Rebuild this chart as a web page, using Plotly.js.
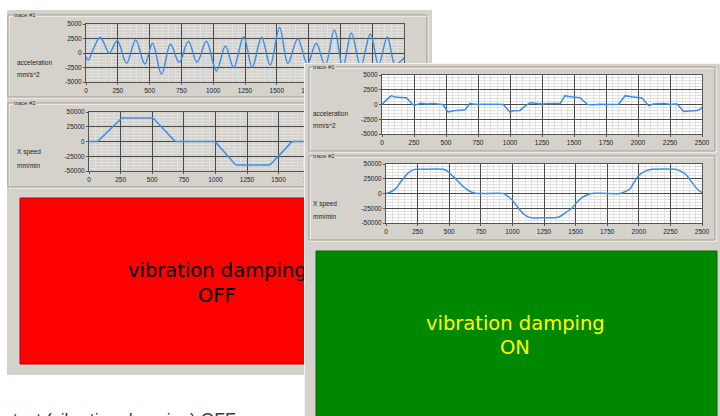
<!DOCTYPE html>
<html><head><meta charset="utf-8">
<script src="https://cdn.plot.ly/plotly-3.0.1.min.js"></script>
<style>
body{margin:0;background:#fff;overflow:hidden;width:720px;height:416px}
#w1{position:absolute;left:0;top:0;width:720px;height:416px}
#w2{position:absolute;left:304px;top:63px;width:416px;height:353px}
</style></head><body>
<div id="w1"></div><div id="w2"></div>
<script>
// ---------- data ----------
const xTickVals = [0,250,500,750,1000,1250,1500,1750,2000,2250,2500];
const xTickText = ["0","250","500","750","1000","1250","1500","1750","2000","2250","2500"];
// left window: labels beyond 1750 lie under the right window
const xTickTextLeft = ["0","250","500","750","1000","1250","1500","1750","","",""];
const accTickVals = [5000,2500,0,-2500,-5000];
const accTickText = ["5000","2500","0","-2500","-5000"];
const spdTickVals = [50000,25000,0,-25000,-50000];
const spdTickText = ["50000","25000","0","-25000","-50000"];

// vibration damping OFF - acceleration (mm/s^2)
const accOffX = [0,18,60,110,140,183,246,319,390,463,523,594,664,732,805,873,946,1025,1096,1161,1239,1307,1380,1448,1522,1587,1665,1740,1810,1880,1953,2020,2086,2160,2235,2300,2369,2430,2480,2500];
const accOffY = [-640,-1200,800,2700,1800,-50,2120,-1780,2240,-1900,1670,-3680,1500,-1610,2010,-1610,2010,-3100,1210,-2530,2820,-2470,2700,-2070,4400,-1780,2470,-1900,1700,-2200,3950,-2500,3450,-2300,3270,-2000,2750,-2000,-1300,-800];
// vibration damping OFF - X speed (mm/min)
const spdOffX = [0,65,75,245,260,500,515,675,690,990,1005,1155,1170,1425,1440,1600,1615,1750];
const spdOffY = [0,0,1500,38500,40000,40000,38000,1500,0,0,-2000,-38500,-40000,-40000,-38000,-1500,0,0];

// vibration damping ON - acceleration (mm/s^2)
const accOnX = [0,30,73,100,150,190,215,238,260,300,350,400,450,478,500,517,560,608,650,670,686,720,800,900,947,975,1000,1026,1078,1110,1156,1200,1250,1300,1391,1410,1430,1470,1522,1548,1575,1605,1650,1700,1800,1848,1875,1900,1950,1991,2031,2060,2083,2122,2200,2250,2305,2330,2357,2400,2461,2485,2500];
const accOnY = [0,700,1500,1250,1200,1150,600,0,-100,200,100,150,50,0,-800,-1250,-1050,-1000,-900,-300,200,50,100,50,0,-700,-1300,-1050,-1000,-400,300,200,100,150,150,800,1500,1300,1200,1150,600,0,-50,50,0,50,800,1500,1300,1200,1100,400,-200,100,150,50,100,-500,-1200,-1100,-1000,-800,-500];
// vibration damping ON - X speed (mm/min)
const spdOnX = [0,40,84,124,177,215,243,300,454,490,520,560,600,639,680,718,929,960,995,1048,1090,1130,1167,1250,1352,1380,1404,1470,1510,1550,1590,1629,1650,1853,1900,1932,1960,1998,2051,2104,2289,2330,2368,2400,2434,2470,2500];
const spdOnY = [0,3000,10000,22000,35000,40000,41000,41000,41000,37000,31000,23000,14000,7000,2000,0,0,-4000,-10000,-25000,-35000,-40000,-41500,-41000,-40500,-38500,-35000,-25000,-15000,-7000,-2500,0,500,0,4000,8000,18000,30000,38000,41000,41000,38000,33000,25000,15000,6000,1500];

// ---------- styling helpers ----------
const GRAY = '#d5d2cb';
const LINE = '#3c8ee8';
const TICKFONT = {family:'Liberation Sans, Arial', size:6.5, color:'#222'};
const LBLFONT = {family:'Liberation Sans, Arial', size:6.5, color:'#222'};

function mk(W,H,ox,oy){
  return {
    X: p => (p-ox)/W,
    Y: p => 1-(p-oy)/H
  };
}
function xAx(c, x0, x1, anchor, labels){
  return {domain:[c.X(x0),c.X(x1)], range:[0,2500], anchor:anchor,
    tickmode:'array', tickvals:xTickVals, ticktext:labels, tickfont:TICKFONT,
    ticks:'outside', ticklen:2, tickcolor:'#555',
    showgrid:true, gridcolor:'#4a4a4a', gridwidth:1, zeroline:false,
    showline:true, mirror:true, linecolor:'#555', linewidth:1, fixedrange:true,
    minor:{tickmode:'linear', tick0:0, dtick:50, showgrid:true, gridcolor:'#e0e0e0', gridwidth:1}};
}
function yAx(c, y0, y1, anchor, vals, text, lim){
  return {domain:[c.Y(y1),c.Y(y0)], range:[-lim,lim], anchor:anchor,
    tickmode:'array', tickvals:vals, ticktext:text, tickfont:TICKFONT,
    ticks:'outside', ticklen:2, tickcolor:'#555',
    showgrid:true, gridcolor:'#4a4a4a', gridwidth:1, zeroline:false,
    showline:true, mirror:true, linecolor:'#555', linewidth:1, fixedrange:true,
    minor:{tickmode:'linear', tick0:0, dtick:lim/10, showgrid:true, gridcolor:'#e0e0e0', gridwidth:1}};
}
function box(c, x0,y0,x1,y1){
  return [
    {type:'rect', xref:'paper', yref:'paper', x0:c.X(x0+1), x1:c.X(x1+1), y0:c.Y(y0+1), y1:c.Y(y1+1), line:{color:'#ffffff', width:1}, layer:'below'},
    {type:'rect', xref:'paper', yref:'paper', x0:c.X(x0), x1:c.X(x1), y0:c.Y(y0), y1:c.Y(y1), line:{color:'#a09c94', width:1}, layer:'below'}
  ];
}
function lbl(c, text, x, y, font, anchor, bg){
  const a = {xref:'paper', yref:'paper', x:c.X(x), y:c.Y(y), text:text, showarrow:false,
    xanchor:anchor||'left', yanchor:'middle', font:font||LBLFONT, borderpad:0};
  if(bg){a.bgcolor = bg;}
  return a;
}
const BIG = {family:'DejaVu Sans', size:19.5, color:'#000'};
const cfg = {staticPlot:true, displayModeBar:false};

// ---------- window 1 (damping OFF) ----------
const c1 = mk(720,416,0,0);
Plotly.newPlot('w1', [
  {x:accOffX, y:accOffY, xaxis:'x', yaxis:'y', mode:'lines', line:{color:LINE, width:1.5, shape:'spline', smoothing:1}},
  {x:spdOffX, y:spdOffY, xaxis:'x2', yaxis:'y2', mode:'lines', line:{color:LINE, width:1.5}}
], {
  width:720, height:416, margin:{l:0,r:0,t:0,b:0}, showlegend:false,
  paper_bgcolor:'#ffffff', plot_bgcolor:'#ffffff',
  xaxis: xAx(c1, 86, 404, 'y', xTickTextLeft),
  yaxis: yAx(c1, 24, 82, 'x', accTickVals, accTickText, 5000),
  xaxis2: xAx(c1, 89, 405, 'y2', xTickTextLeft),
  yaxis2: yAx(c1, 112, 171, 'x2', spdTickVals, spdTickText, 50000),
  shapes: [
    {type:'rect', xref:'paper', yref:'paper', x0:c1.X(7), x1:c1.X(432), y0:c1.Y(10), y1:c1.Y(375), fillcolor:GRAY, line:{width:0}, layer:'below'},
    ...box(c1, 8,15,427,97),
    ...box(c1, 8,103,427,187),
    {type:'rect', xref:'paper', yref:'paper', x0:c1.X(20), x1:c1.X(432), y0:c1.Y(198), y1:c1.Y(364), fillcolor:'#ff0000', line:{color:'#b40000', width:1}, layer:'below'}
  ],
  annotations: [
    lbl(c1, 'trace #1', 13, 15, {family:'Liberation Sans, Arial', size:6, color:'#333'}, 'left', GRAY),
    lbl(c1, 'trace #2', 13, 103, {family:'Liberation Sans, Arial', size:6, color:'#333'}, 'left', GRAY),
    lbl(c1, 'acceleration', 16, 62),
    lbl(c1, 'mm/s^2', 16, 74),
    lbl(c1, 'X speed', 16, 152),
    lbl(c1, 'mm/min', 16, 165),
    lbl(c1, 'vibration damping', 217, 270, BIG, 'center'),
    lbl(c1, 'OFF', 217, 295, BIG, 'center'),
    lbl(c1, 'test (vibration damping) OFF', 12, 420, {family:'Liberation Sans, Arial', size:17.5, color:'#3a3a3a'}, 'left')
  ]
}, cfg);

// ---------- window 2 (damping ON) ----------
const c2 = mk(416,353,304,63);
Plotly.newPlot('w2', [
  {x:accOnX, y:accOnY, xaxis:'x', yaxis:'y', mode:'lines', line:{color:LINE, width:1.5}},
  {x:spdOnX, y:spdOnY, xaxis:'x2', yaxis:'y2', mode:'lines', line:{color:LINE, width:1.5, shape:'spline', smoothing:0.6}}
], {
  width:416, height:353, margin:{l:0,r:0,t:0,b:0}, showlegend:false,
  paper_bgcolor:GRAY, plot_bgcolor:'#ffffff',
  xaxis: xAx(c2, 382, 702, 'y', xTickText),
  yaxis: yAx(c2, 75, 134, 'x', accTickVals, accTickText, 5000),
  xaxis2: xAx(c2, 386, 702, 'y2', xTickText),
  yaxis2: yAx(c2, 164, 223, 'x2', spdTickVals, spdTickText, 50000),
  shapes: [
    {type:'line', xref:'paper', yref:'paper', x0:c2.X(304.5), x1:c2.X(304.5), y0:0, y1:1, line:{color:'#f4f4f4', width:1}},
    {type:'line', xref:'paper', yref:'paper', x0:0, x1:1, y0:c2.Y(63.5), y1:c2.Y(63.5), line:{color:'#f4f4f4', width:1}},
    ...box(c2, 309,67,715,151),
    ...box(c2, 309,156,715,240),
    {type:'rect', xref:'paper', yref:'paper', x0:c2.X(316), x1:c2.X(717), y0:c2.Y(251), y1:c2.Y(430), fillcolor:'#008800', line:{color:'#006a00', width:1}, layer:'below'}
  ],
  annotations: [
    lbl(c2, 'trace #1', 312, 67, {family:'Liberation Sans, Arial', size:6, color:'#333'}, 'left', GRAY),
    lbl(c2, 'trace #2', 312, 156, {family:'Liberation Sans, Arial', size:6, color:'#333'}, 'left', GRAY),
    lbl(c2, 'acceleration', 312, 113),
    lbl(c2, 'mm/s^2', 312, 126),
    lbl(c2, 'X speed', 312, 204),
    lbl(c2, 'mm/min', 312, 216),
    lbl(c2, 'vibration damping', 515, 323, Object.assign({}, BIG, {color:'#ffff00'}), 'center'),
    lbl(c2, 'ON', 515, 347, Object.assign({}, BIG, {color:'#ffff00'}), 'center')
  ]
}, cfg);
</script>
</body></html>
